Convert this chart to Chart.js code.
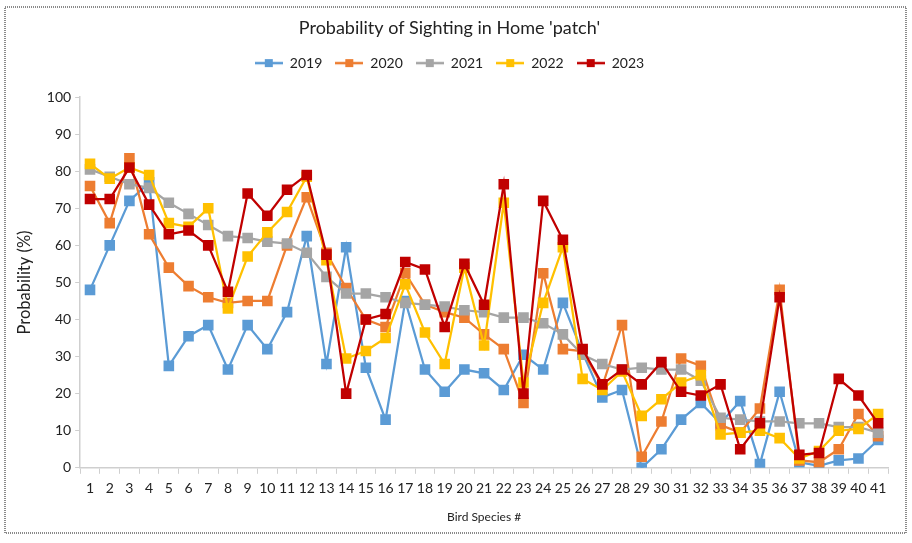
<!DOCTYPE html>
<html>
<head>
<meta charset="utf-8">
<script src="https://cdn.jsdelivr.net/npm/chart.js@4"></script>
<style>
  html, body { margin: 0; padding: 0; background: #fff; }
  #wrap { width: 912px; height: 543px; }
</style>
</head>
<body>
<div id="wrap"><canvas id="sightings" width="912" height="543"></canvas></div>
<script>
//categories = bird species numbers
var species = ['1','2','3','4','5','6','7','8','9','10','11','12','13','14','15','16','17','18','19','20',
  '21','22','23','24','25','26','27','28','29','30','31','32','33','34','35','36','37','38','39','40','41'];

//probability of sighting (%) per year
var y2019 = [48,60,72,77,27.5,35.5,38.5,26.5,38.5,32,42,62.5,28,59.5,27,13,45,26.5,20.5,26.5,
  25.5,21,30.5,26.5,44.5,31,19,21,0,5,13,17.5,12,18,1,20.5,1.5,0.5,2,2.5,7.5];
var y2020 = [76,66,83.5,63,54,49,46,44.5,45,45,60,73,58,48.5,40,38,52.5,44,42,40.5,
  36,32,17.5,52.5,32,31.5,22,38.5,3,12.5,29.5,27.5,11.5,9.5,16,48,2,1.5,5,14.5,8.5];
var y2021 = [80.5,78.5,76.5,75.5,71.5,68.5,65.5,62.5,62,61,60.5,58,51.5,47,47,46,44.5,44,43.5,42.5,
  42,40.5,40.5,39,36,30.5,28,26.5,27,26.5,26.5,23.5,13.5,13,12.5,12.5,12,12,11,11,9.5];
var y2022 = [82,78,81,79,66,65,70,43,57,63.5,69,78.5,56,29.5,31.5,35,49.5,36.5,28,54,
  33,71.5,23,44.5,59.5,24,21,26,14,18.5,23,25,9,9.5,10,8,2.5,4.5,10,10.5,14.5];
var y2023 = [72.5,72.5,81,71,63,64,60,47.5,74,68,75,79,57.5,20,40,41.5,55.5,53.5,38,55,
  44,76.5,20,72,61.5,32,22.5,26.5,22.5,28.5,20.5,19.5,22.5,5,12,46,3.5,4,24,19.5,12];

var years = ['2019','2020','2021','2022','2023'];
var colors = ['#5B9BD5','#ED7D31','#A5A5A5','#FFC000','#C00000'];
var series = [y2019, y2020, y2021, y2022, y2023];

var FONT = "Lato, 'Open Sans', sans-serif";

//little line + square icon for the legend (excel style)
function legendIcon(color) {
  var c = document.createElement('canvas');
  c.width = 28; c.height = 12;
  var g = c.getContext('2d');
  g.strokeStyle = color;
  g.lineWidth = 2.5;
  g.beginPath(); g.moveTo(0, 6); g.lineTo(28, 6); g.stroke();
  g.fillStyle = color;
  g.fillRect(10, 2, 8, 8);
  return c;
}

//dotted frame round the whole chart
var framePlugin = {
  id: 'frame',
  beforeInit: function(chart) {
    //push the plot area down a bit under the legend
    var fit = chart.legend.fit;
    chart.legend.fit = function() {
      fit.call(this);
      this.height += 17;
    };
  },
  beforeDraw: function(chart) {
    var ctx = chart.ctx;
    ctx.save();
    ctx.fillStyle = '#fff';
    ctx.fillRect(0, 0, chart.width, chart.height);
    ctx.strokeStyle = '#8a8a8a';
    ctx.lineWidth = 2;
    ctx.setLineDash([1, 1]);
    ctx.strokeRect(5, 7, 901, 526);
    ctx.restore();
  }
};

var datasets = [];
for (var i = 0; i < years.length; i++) {
  datasets.push({
    label: years[i],
    data: series[i],
    borderColor: colors[i],
    backgroundColor: colors[i],
    borderWidth: 2.25,
    pointStyle: 'rect',
    pointRadius: 7.5,
    pointHoverRadius: 7.5,
    pointBorderWidth: 0,
    tension: 0,
    order: years.length - i   //later years drawn on top
  });
}

var config = {
  type: 'line',
  data: { labels: species, datasets: datasets },
  options: {
    responsive: false,
    animation: false,
    layout: { padding: { left: 11, right: 24, top: 10, bottom: 15 } },
    plugins: {
      title: {
        display: true,
        text: "Probability of Sighting in Home 'patch'",
        color: '#222',
        font: { family: FONT, size: 18, weight: 'normal' },
        padding: { top: 7.5, bottom: 4 }
      },
      legend: {
        position: 'top',
        labels: {
          usePointStyle: true,
          pointStyleWidth: 28,
          padding: 13,
          color: '#222',
          font: { family: FONT, size: 14 },
          generateLabels: function(chart) {
            return chart.data.datasets.map(function(ds, idx) {
              return {
                text: ds.label,
                pointStyle: legendIcon(ds.borderColor),
                fillStyle: ds.borderColor,
                strokeStyle: ds.borderColor,
                lineWidth: 0,
                hidden: false,
                datasetIndex: idx,
                fontColor: '#222'
              };
            });
          }
        }
      },
      tooltip: { enabled: false }
    },
    scales: {
      x: {
        type: 'category',
        offset: true,
        grid: { display: true, drawOnChartArea: false, offset: true, tickLength: 6, color: '#cfcfcf' },
        border: { color: '#cfcfcf', width: 1.5 },
        ticks: { color: '#222', font: { family: FONT, size: 14 }, padding: 6, maxRotation: 0, autoSkip: false },
        title: { display: true, text: 'Bird Species #', color: '#222', font: { family: FONT, size: 12 }, padding: { top: 7 } }
      },
      y: {
        min: 0,
        max: 100,
        grid: { display: true, drawOnChartArea: false, tickLength: 5, color: '#cfcfcf' },
        border: { color: '#cfcfcf', width: 1.5 },
        ticks: { stepSize: 10, color: '#222', font: { family: FONT, size: 14 }, padding: 4 },
        title: { display: true, text: 'Probability (%)', color: '#222', font: { family: FONT, size: 16.5 }, padding: { bottom: 8 } }
      }
    }
  },
  plugins: [framePlugin]
};

var ctx = document.getElementById('sightings');
var sightingChart = new Chart(ctx, config);
</script>
</body>
</html>
